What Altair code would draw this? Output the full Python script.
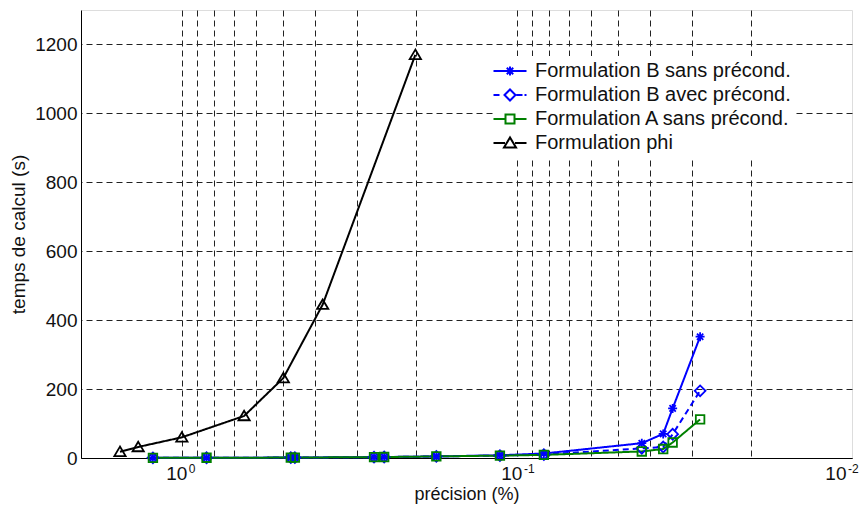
import altair as alt
import pandas as pd

# ---------------- data ----------------
series_names = [
    "Formulation B sans précond.",
    "Formulation B avec précond.",
    "Formulation A sans précond.",
    "Formulation phi",
]
series_colors = ["#0000ff", "#0000ff", "#008000", "#000000"]

prec_B = [1.22, 0.844, 0.473, 0.46, 0.267, 0.249, 0.174, 0.1124, 0.0831,
          0.0424, 0.0366, 0.0343, 0.0284]
t_B_sans = [0.5, 0.8, 1.2, 1.3, 2.5, 2.8, 4.5, 8, 13, 43, 70, 144, 352]
t_B_avec = [0.5, 0.8, 1.2, 1.3, 2.5, 2.8, 4.5, 7, 10, 28, 32, 69, 195]
t_A_sans = [0.5, 0.8, 1.2, 1.3, 2.5, 2.8, 4.5, 7, 9, 19, 26, 45, 112]
prec_phi = [1.53, 1.35, 1.0, 0.652, 0.498, 0.38, 0.201]
t_phi = [18, 32, 60, 122, 232, 445, 1170]

x_grid_values = [1, 0.9, 0.8, 0.7, 0.6, 0.5, 0.4, 0.3, 0.2,
                 0.1, 0.09, 0.08, 0.07, 0.06, 0.05, 0.04, 0.03, 0.02]
y_tick_values = [0, 200, 400, 600, 800, 1000, 1200]
decade_values = [1, 0.1, 0.01]
decade_exponents = ["0", "-1", "-2"]

# ---------------- frames ----------------
rows = []
for name, xs, ys in [
    (series_names[0], prec_B, t_B_sans),
    (series_names[1], prec_B, t_B_avec),
    (series_names[2], prec_B, t_A_sans),
    (series_names[3], prec_phi, t_phi),
]:
    for i, (xv, yv) in enumerate(zip(xs, ys)):
        rows.append({"series": name, "prec": xv, "t": yv, "idx": i})
df = pd.DataFrame(rows)

labels_df = pd.DataFrame({"prec": decade_values, "t": [0] * len(decade_values),
                          "base": ["10"] * len(decade_values), "exp": decade_exponents})

# ---------------- styles ----------------
FONT = "Liberation Sans"
TXT = "#111111"

marker_paths = [
    "M-1,0H1M0,-1V1M-0.7,-0.7L0.7,0.7M-0.7,0.7L0.7,-0.7",   # star
    "M-1.2,0L0,-1.2L1.2,0L0,1.2Z",                           # diamond
    "M-0.95,-0.95H0.95V0.95H-0.95Z",                         # square
    "M0,-1.15L-1.25,0.95L1.25,0.95Z",                        # triangle up
]
legend_paths = [
    "M-1.65,0H1.65M0,-0.45V0.45M-0.32,-0.32L0.32,0.32M-0.32,0.32L0.32,-0.32",
    "M-1.65,0H-1.05M0.65,0H1.25M1.45,0H1.65M-0.55,0L0,-0.55L0.55,0L0,0.55Z",
    "M-1.65,0H-0.45M0.45,0H1.65M-0.45,-0.45H0.45V0.45H-0.45Z",
    "M-1.65,0H-0.5M0.5,0H1.65M0,-0.55L-0.6,0.45L0.6,0.45Z",
]

x_scale = alt.Scale(type="log", domain=[0.01, 2], reverse=True, nice=False, zero=False)
y_scale = alt.Scale(domain=[0, 1300], nice=False, zero=True)

x_axis = alt.Axis(values=x_grid_values, labels=False, ticks=False, grid=True,
                  gridDash=[6, 4], gridColor="#222222", gridWidth=1,
                  domainColor="#000000", title="précision (%)",
                  titleFont=FONT, titleFontSize=18, titleFontWeight="normal",
                  titleColor=TXT, titlePadding=27)
y_axis = alt.Axis(values=y_tick_values, ticks=False, grid=True, format="d",
                  gridDash=[6, 4], gridColor="#222222", gridWidth=1,
                  domainColor="#000000", labelFont=FONT, labelFontSize=19,
                  labelColor=TXT, labelPadding=4, title="temps de calcul (s)",
                  titleFont=FONT, titleFontSize=19, titleFontWeight="normal",
                  titleColor=TXT, titlePadding=6)

X = alt.X("prec:Q", scale=x_scale, axis=x_axis)
Y = alt.Y("t:Q", scale=y_scale, axis=y_axis)

color_enc = alt.Color("series:N", scale=alt.Scale(domain=series_names, range=series_colors), legend=None)

base = alt.Chart(df)

lines = base.mark_line(strokeWidth=2).encode(
    x=X, y=Y, color=color_enc,
    strokeDash=alt.StrokeDash("series:N", scale=alt.Scale(domain=series_names,
                              range=[[1, 0], [6, 4], [1, 0], [1, 0]]), legend=None),
    order=alt.Order("idx:Q"),
    detail="series:N",
)

points = base.mark_point(filled=False, size=81, strokeWidth=1.8, opacity=1).encode(
    x=X, y=Y, color=color_enc,
    shape=alt.Shape("series:N", scale=alt.Scale(domain=series_names, range=marker_paths), legend=None),
)

leg = alt.Legend(title=None, orient="none", legendX=414, legendY=46,
                 fillColor="white", padding=4, labelFont=FONT, labelFontSize=20,
                 labelColor=TXT, symbolSize=400, symbolStrokeWidth=2,
                 rowPadding=3, labelOffset=14, labelLimit=400)

legend_layer = base.transform_filter("false").mark_point(filled=False, strokeWidth=2, opacity=1).encode(
    x=X, y=Y,
    color=alt.Color("series:N", scale=alt.Scale(domain=series_names, range=series_colors), legend=leg),
    shape=alt.Shape("series:N", scale=alt.Scale(domain=series_names, range=legend_paths), legend=leg),
)

lab = alt.Chart(labels_df)
base_a = lab.transform_filter("datum.prec > 0.05").mark_text(
    align="right", baseline="alphabetic", font=FONT, fontSize=19, color=TXT, dx=5.5, dy=21.5
).encode(x=X, y=Y, text="base:N")
exp_a = lab.transform_filter("datum.prec > 0.05").mark_text(
    align="left", baseline="alphabetic", font=FONT, fontSize=12, color=TXT, dx=7, dy=15
).encode(x=X, y=Y, text="exp:N")
base_b = lab.transform_filter("datum.prec < 0.05").mark_text(
    align="right", baseline="alphabetic", font=FONT, fontSize=19, color=TXT, dx=-5.5, dy=21.5
).encode(x=X, y=Y, text="base:N")
exp_b = lab.transform_filter("datum.prec < 0.05").mark_text(
    align="left", baseline="alphabetic", font=FONT, fontSize=12, color=TXT, dx=-4, dy=15
).encode(x=X, y=Y, text="exp:N")

chart = alt.layer(lines, points, legend_layer, base_a, exp_a, base_b, exp_b).resolve_scale(
    color="independent", shape="independent"
).properties(
    width=771, height=448,
    autosize=alt.AutoSizeParams(type="none"),
    padding={"left": 73, "top": 2, "right": 8, "bottom": 48},
).configure_view(stroke="#000000", strokeWidth=1).configure(background="white")

chart.save("out.html", embed_options={"renderer": "svg", "actions": False})
